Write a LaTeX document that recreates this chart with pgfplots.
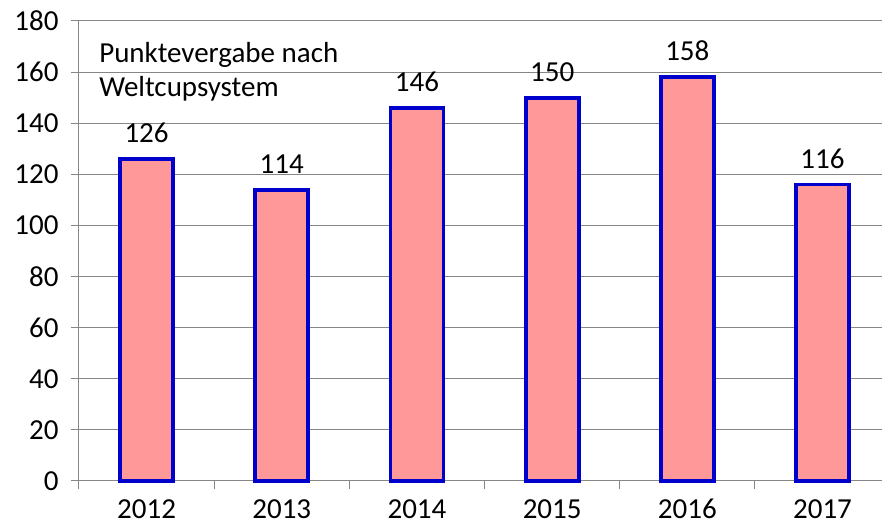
\documentclass[border=0pt]{standalone}
\usepackage{pgfplots}
\pgfplotsset{compat=1.18}
\usepackage{fontspec}
\setmainfont{Carlito}
\definecolor{barfill}{HTML}{FF9999}
\definecolor{barline}{HTML}{0000CC}
\definecolor{gridgray}{HTML}{868686}
\begin{document}
\begin{tikzpicture}
\begin{axis}[
  scale only axis,
  width=803pt, height=460pt,
  xmin=-0.5, xmax=5.44,
  ymin=0, ymax=180,
  axis x line=bottom, axis y line=left,
  axis line style={-, gridgray, line width=1pt},
  ytick={0,20,...,180},
  ymajorgrids,
  major grid style={gridgray, line width=1pt},
  xtick={0,...,5},
  xticklabels={2012,2013,2014,2015,2016,2017},
  minor xtick={-0.5,0.5,1.5,2.5,3.5,4.5},
  major x tick style={draw=none},
  tick style={gridgray, line width=1pt},
  tick align=outside,
  major tick length=8pt, minor tick length=8pt,
  font=\fontsize{29}{34}\selectfont,
  tick label style={font=\fontsize{29}{34}\selectfont, black},
  /pgf/number format/assume math mode=true,
  yticklabel style={xshift=-9pt},
  xticklabel style={text height=18pt, text depth=0pt, yshift=-8pt},
  ybar, bar width=53pt,
  nodes near coords,
  every node near coord/.append style={font=\fontsize{29}{34}\selectfont, black, yshift=11pt},
  clip=false,
]
\addplot[fill=barfill, draw=barline, line width=3.8pt] coordinates {(0,126) (1,114) (2,146) (3,150) (4,158) (5,116)};
\node[anchor=north west, align=left, font=\fontsize{29}{34}\selectfont, inner sep=0pt] at (rel axis cs:0.025,0.955) {Punktevergabe nach\\Weltcupsystem};
\coordinate (bl) at (rel axis cs:0,0);
\coordinate (tr) at (rel axis cs:1,1);
\end{axis}
\pgfresetboundingbox
\useasboundingbox ([shift={(-79pt,-45pt)}]bl) rectangle ([shift={(0pt,21pt)}]tr);
\end{tikzpicture}
\end{document}
